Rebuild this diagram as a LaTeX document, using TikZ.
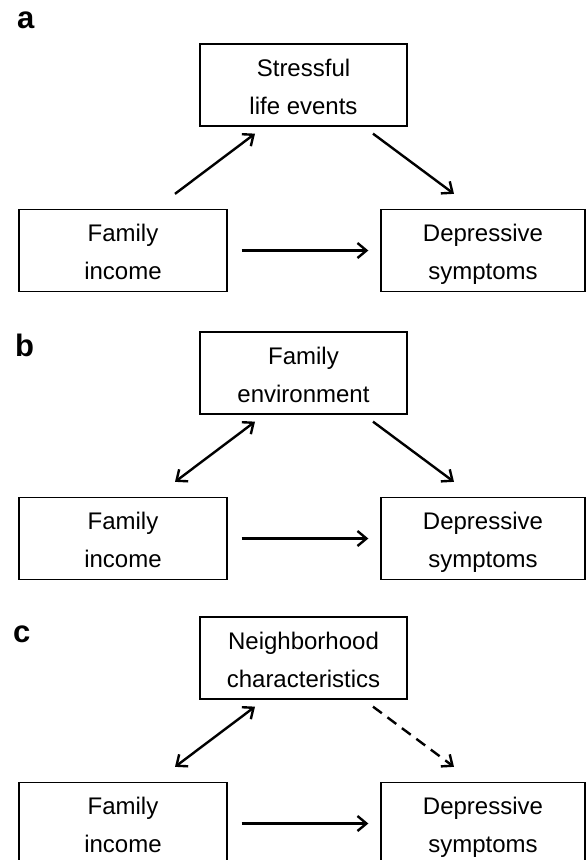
\documentclass[tikz,border=0pt]{standalone}
\usepackage{fontspec}
\setmainfont{Liberation Sans}
\usepackage{tikz}
\usetikzlibrary{arrows.meta}
\tikzstyle{box} = [draw,line width=1.3pt,minimum width=207pt,minimum height=82pt,inner sep=0pt,align=center,font=\fontsize{24}{38}\selectfont,
	text height=65pt,text depth=7pt]
\tikzstyle{arrow} = [line width=2.4pt,-{Straight Barb[length=9pt,width=15pt]}]
\tikzstyle{both} = [line width=2.4pt,{Straight Barb[length=9pt,width=15pt]}-{Straight Barb[length=9pt,width=15pt]}]
\tikzstyle{lbl} = [anchor=base west,inner sep=0pt,font=\fontsize{31}{31}\selectfont\bfseries]

\begin{document}
\begin{tikzpicture}[x=1pt,y=-1pt]
	\useasboundingbox (0,0) rectangle (586,860);
	
	% Panel a: stressful life events
	\begin{scope}
		\node[lbl] (la) at (17,28) {a};
		\node[box] (sa) at (303.5,85) {Stressful\\life events};
		\node[box,minimum width=208pt] (fa) at (123,250.5) {Family\\income};
		\node[box,minimum width=204pt] (da) at (483,250.5) {Depressive\\symptoms};
		
		\draw[arrow] ([shift={(52,-15)}]fa.north) -- ([shift={(-48.5,7)}]sa.south);
		\draw[arrow] ([shift={(69.5,7)}]sa.south) -- ([shift={(-29,-15)}]da.north);
		\draw[arrow] ([xshift=14pt]fa.east) -- ([xshift=-12pt]da.west);
	\end{scope}
	
	% Panel b: family environment
	\begin{scope}[yshift=-288pt]
		\node[lbl] (lb) at (15,68) {b};
		\node[box] (eb) at (303.5,85) {Family\\environment};
		\node[box,minimum width=208pt] (fb) at (123,250.5) {Family\\income};
		\node[box,minimum width=204pt] (db) at (483,250.5) {Depressive\\symptoms};
		
		\draw[both] ([shift={(52,-15)}]fb.north) -- ([shift={(-48.5,7)}]eb.south);
		\draw[arrow] ([shift={(69.5,7)}]eb.south) -- ([shift={(-29,-15)}]db.north);
		\draw[arrow] ([xshift=14pt]fb.east) -- ([xshift=-12pt]db.west);
	\end{scope}
	
	% Panel c: neighborhood characteristics
	\begin{scope}[yshift=-573pt]
		\node[lbl] (lc) at (13,69) {c};
		\node[box] (nc) at (303.5,85) {Neighborhood\\characteristics};
		\node[box,minimum width=208pt] (fc) at (123,250.5) {Family\\income};
		\node[box,minimum width=204pt] (dc) at (483,250.5) {Depressive\\symptoms};
		
		\draw[both] ([shift={(52,-15)}]fc.north) -- ([shift={(-48.5,7)}]nc.south);
		\draw[arrow,dash pattern=on 11pt off 7pt] ([shift={(69.5,7)}]nc.south) -- ([shift={(-29,-15)}]dc.north);
		\draw[arrow] ([xshift=14pt]fc.east) -- ([xshift=-12pt]dc.west);
	\end{scope}
	
\end{tikzpicture}
\end{document}
